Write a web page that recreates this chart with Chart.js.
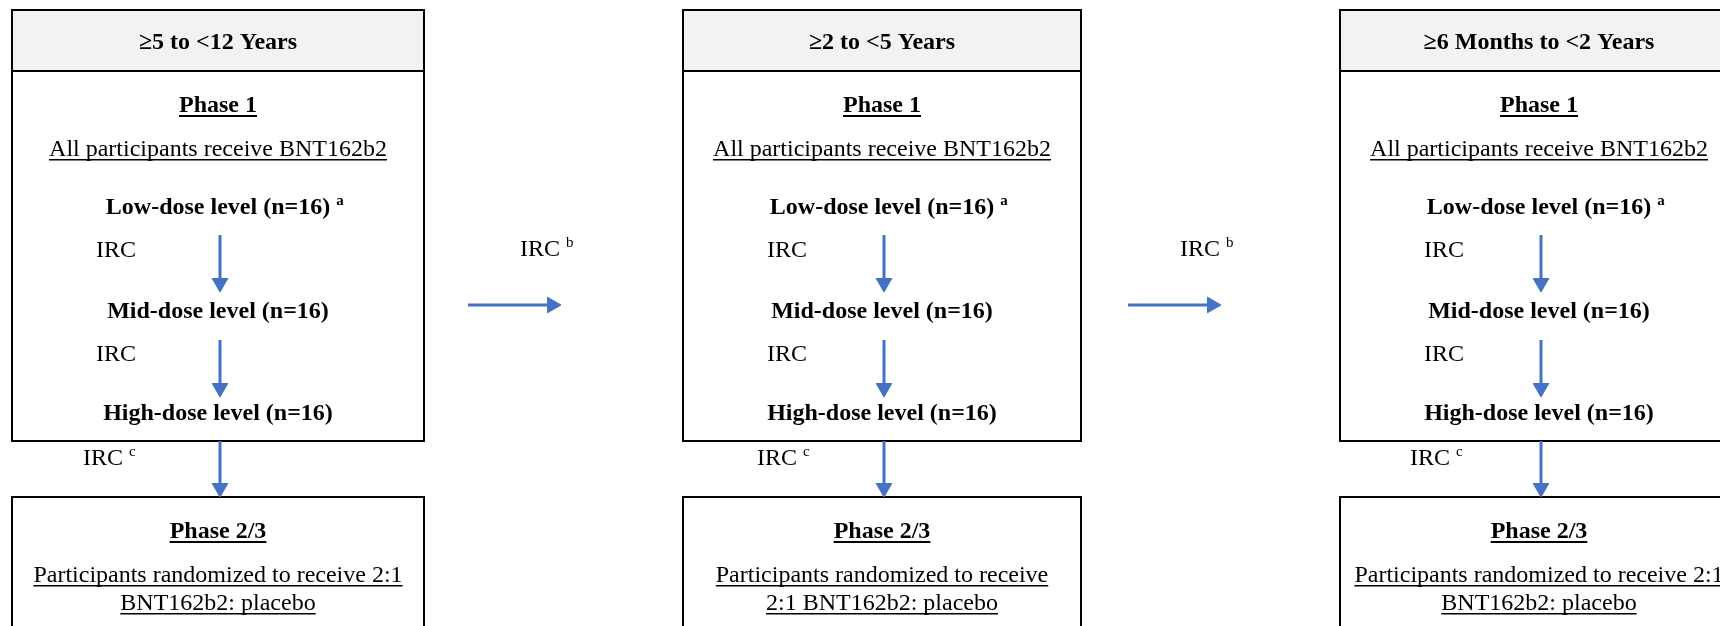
<!DOCTYPE html>
<html>
<head>
<meta charset="utf-8">
<script src="https://cdn.jsdelivr.net/npm/chart.js@4"></script>
<style>
  html, body { margin: 0; padding: 0; background: #fff; }
  canvas { display: block; }
</style>
</head>
<body>
<canvas id="flow" width="1720" height="626"></canvas>
<script>
// age cohorts, one column each
const ageGroups = ['≥5 to <12 Years', '≥2 to <5 Years', '≥6 Months to <2 Years'];
const columnCenter = [218, 882, 1539];
const boxLeft = [12, 683, 1340];
const boxRight = [424, 1081, 1738];

// box rows (y in page units, top = 0)
const headerTop = 10;
const headerBottom = 71;
const phase1Bottom = 441;
const phase23Top = 497;
const phase23Bottom = 700;

// phase 1 content
const phase1Title = 'Phase 1';
const phase1Subtitle = 'All participants receive BNT162b2';
const phase1TextY = [104, 148];
const doseLevels = ['Low-dose level (n=16)', 'Mid-dose level (n=16)', 'High-dose level (n=16)'];
const doseNotes = ['a', '', ''];
const doseY = [206, 310, 412];

// dose escalation arrows: start y, tip y
const arrowX = [220, 884, 1541];
const arrowStartY = [235, 340, 441];
const arrowTipY = [292, 397, 497];

// IRC reviews between levels
const ircNotes = ['', '', 'c'];
const ircY = [249, 353, 457];
const ircX = [[96, 767, 1424], [96, 767, 1424], [83, 757, 1410]];

// phase 2/3 content
const phase23Title = 'Phase 2/3';
const phase23Lines = [
  ['Participants randomized to receive 2:1', 'BNT162b2: placebo'],
  ['Participants randomized to receive', '2:1 BNT162b2: placebo'],
  ['Participants randomized to receive 2:1', 'BNT162b2: placebo']
];
const phase23TextY = [530, 574, 602];

// arrows from one cohort to the next
const stepStartX = [468, 1128];
const stepTipX = [561, 1221];
const stepY = 305;
const stepLabelX = [520, 1180];
const stepLabelY = 248;
const stepNote = 'b';

const blue = '#4472C4';
const headRadius = 9;
const serif = '"Liberation Serif", "Times New Roman", serif';

const datasets = [];
for (let c = 0; c < ageGroups.length; c++) {
  for (let k = 0; k < arrowStartY.length; k++) {
    datasets.push({
      data: [{ x: arrowX[c], y: arrowStartY[k] }, { x: arrowX[c], y: arrowTipY[k] - headRadius }],
      rotation: [0, 180]
    });
  }
}
for (let s = 0; s < stepStartX.length; s++) {
  datasets.push({
    data: [{ x: stepStartX[s], y: stepY }, { x: stepTipX[s] - headRadius, y: stepY }],
    rotation: [0, 90]
  });
}
datasets.forEach(d => {
  d.showLine = true;
  d.borderColor = blue;
  d.borderWidth = 3;
  d.pointStyle = 'triangle';
  d.pointRadius = [0, headRadius];
  d.pointBackgroundColor = blue;
  d.pointBorderColor = blue;
  d.pointBorderWidth = 1;
});

function drawText(ctx, text, x, y, opt) {
  const size = opt.size || 24;
  ctx.font = (opt.bold ? 'bold ' : '') + size + 'px ' + serif;
  ctx.fillStyle = '#000';
  ctx.textBaseline = 'alphabetic';
  const w = ctx.measureText(text).width;
  const left = opt.align === 'left' ? x : x - w / 2;
  const base = y + 8;
  ctx.textAlign = 'left';
  ctx.fillText(text, left, base);
  if (opt.underline) {
    ctx.fillRect(left, base + 3, w, opt.bold ? 2 : 1.5);
  }
  if (opt.note) {
    ctx.font = (opt.bold ? 'bold ' : '') + '15px ' + serif;
    ctx.fillText(opt.note, left + w + (opt.noteGap || 6), base - 9);
  }
}

const flowPlugin = {
  id: 'flow',
  beforeDraw(chart) {
    const ctx = chart.ctx;
    ctx.save();
    ctx.fillStyle = '#fff';
    ctx.fillRect(0, 0, chart.width, chart.height);
    ctx.restore();
  },
  beforeDatasetsDraw(chart) {
    const { ctx, scales: { x, y } } = chart;
    ctx.save();
    ctx.lineWidth = 2;
    ctx.strokeStyle = '#000';
    for (let c = 0; c < ageGroups.length; c++) {
      const l = x.getPixelForValue(boxLeft[c]);
      const r = x.getPixelForValue(boxRight[c]);
      const t = y.getPixelForValue(headerTop);
      const hb = y.getPixelForValue(headerBottom);
      const b = y.getPixelForValue(phase1Bottom);
      ctx.fillStyle = '#f2f2f2';
      ctx.fillRect(l, t, r - l, hb - t);
      ctx.strokeRect(l, t, r - l, b - t);
      ctx.beginPath();
      ctx.moveTo(l, hb);
      ctx.lineTo(r, hb);
      ctx.stroke();
      const t2 = y.getPixelForValue(phase23Top);
      const b2 = y.getPixelForValue(phase23Bottom);
      ctx.strokeRect(l, t2, r - l, b2 - t2);
    }
    ctx.restore();
  },
  afterDatasetsDraw(chart) {
    const { ctx, scales: { x, y } } = chart;
    ctx.save();
    for (let c = 0; c < ageGroups.length; c++) {
      const cx = x.getPixelForValue(columnCenter[c]);
      drawText(ctx, ageGroups[c], cx, y.getPixelForValue((headerTop + headerBottom) / 2), { bold: true });
      drawText(ctx, phase1Title, cx, y.getPixelForValue(phase1TextY[0]), { bold: true, underline: true });
      drawText(ctx, phase1Subtitle, cx, y.getPixelForValue(phase1TextY[1]), { underline: true });
      doseLevels.forEach((d, k) => {
        drawText(ctx, d, cx, y.getPixelForValue(doseY[k]), { bold: true, note: doseNotes[k] });
      });
      ircY.forEach((iy, k) => {
        drawText(ctx, 'IRC', x.getPixelForValue(ircX[k][c]), y.getPixelForValue(iy),
          { align: 'left', note: ircNotes[k] });
      });
      drawText(ctx, phase23Title, cx, y.getPixelForValue(phase23TextY[0]), { bold: true, underline: true });
      phase23Lines[c].forEach((line, k) => {
        drawText(ctx, line, cx, y.getPixelForValue(phase23TextY[k + 1]), { underline: true });
      });
    }
    stepLabelX.forEach(lx => {
      drawText(ctx, 'IRC', x.getPixelForValue(lx), y.getPixelForValue(stepLabelY),
        { align: 'left', note: stepNote });
    });
    ctx.restore();
  }
};

new Chart(document.getElementById('flow'), {
  type: 'scatter',
  data: { datasets },
  options: {
    responsive: false,
    animation: false,
    devicePixelRatio: 1,
    layout: { padding: 0, autoPadding: false },
    plugins: { legend: { display: false }, tooltip: { enabled: false } },
    scales: {
      x: { type: 'linear', min: 0, max: 1720, display: false },
      y: { type: 'linear', min: 0, max: 626, reverse: true, display: false }
    }
  },
  plugins: [flowPlugin]
});
</script>
</body>
</html>
